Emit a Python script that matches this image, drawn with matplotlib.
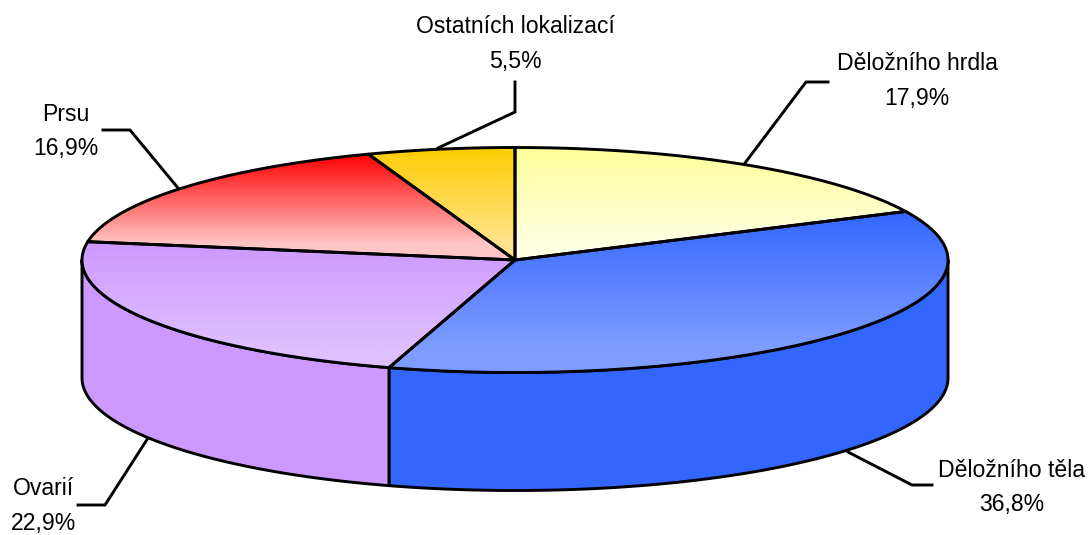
import numpy as np
import matplotlib
matplotlib.use("Agg")
import matplotlib.pyplot as plt
from matplotlib.colors import LinearSegmentedColormap
from matplotlib.patches import Polygon

plt.rcParams["font.family"] = ["Liberation Sans", "DejaVu Sans"]

# clockwise from 12 o'clock
labels = ["Děložního hrdla", "Děložního těla", "Ovarií", "Prsu", "Ostatních lokalizací"]
values = [17.9, 36.8, 22.9, 16.9, 5.5]
top_colors = ["#FFFF99", "#3366FF", "#CC99FF", "#FF0000", "#FFCC00"]
low_colors = ["#FFFFE2", "#7F9DFF", "#DFBFFF", "#FFC6C6", "#FFE48C"]

# pie geometry, in pixels
CX, CY = 515, 260
RX, RY = 433, 112.5
DEPTH = 118
LW = 2.1

# leader lines: start on the pie, elbow, end next to the text
leaders = [
    [(745, 163), (806, 82), (828, 82)],
    [(848, 452), (912, 485), (932, 485)],
    [(148, 438), (105, 505), (78, 505)],
    [(178, 188), (130, 130), (103, 130)],
    [(438, 148), (515, 112), (515, 82)],
]
text_pos = [(917, 81), (1012, 487.5), (43, 506), (66, 131.5), (515, 44)]


def rim(a):
    return CX + RX * np.sin(a), CY - RY * np.cos(a)


fig = plt.figure(figsize=(10.9, 5.35), dpi=100)
ax = fig.add_axes([0, 0, 1, 1])
ax.set_xlim(0, 1090)
ax.set_ylim(535, 0)
ax.axis("off")

edges = np.radians(np.cumsum([0] + values) / sum(values) * 360)

# side wall, only the front half of the rim shows
for i in range(len(values)):
    lo, hi = max(edges[i], np.pi / 2), min(edges[i + 1], 3 * np.pi / 2)
    if lo >= hi:
        continue
    a = np.linspace(lo, hi, 200)
    x, y = rim(a)
    pts = np.r_[np.c_[x, y], np.c_[x[::-1], y[::-1] + DEPTH]]
    ax.add_patch(Polygon(pts, closed=True, facecolor=top_colors[i], edgecolor="black",
                         lw=LW, joinstyle="round", zorder=2))

# top face with a vertical gradient per slice
for i in range(len(values)):
    a = np.linspace(edges[i], edges[i + 1], 200)
    x, y = rim(a)
    pts = np.r_[[(CX, CY)], np.c_[x, y]]
    cmap = LinearSegmentedColormap.from_list(f"s{i}", [top_colors[i], low_colors[i]])
    y0, y1 = pts[:, 1].min(), pts[:, 1].max()
    x0, x1 = pts[:, 0].min(), pts[:, 0].max()
    # the ramp flattens out a little before the bottom of the slice
    ramp = np.clip(np.linspace(0, 1, 256) / 0.85, 0, 1)
    im = ax.imshow(ramp[:, None], cmap=cmap, aspect="auto", vmin=0, vmax=1,
                   extent=(x0, x1, y1, y0), zorder=3)
    poly = Polygon(pts, closed=True, facecolor="none", edgecolor="black", lw=LW,
                   joinstyle="round", zorder=4)
    ax.add_patch(poly)
    im.set_clip_path(poly)

ax.set_xlim(0, 1090)
ax.set_ylim(535, 0)

for name, val, line, pos in zip(labels, values, leaders, text_pos):
    xs, ys = zip(*line)
    ax.plot(xs, ys, color="black", lw=LW, solid_joinstyle="miter", zorder=1)
    ax.text(pos[0], pos[1], f"{name}\n{val:.1f}%".replace(".", ","), ha="center", va="center",
            fontsize=16.6, linespacing=1.62, color="black", zorder=5)

fig.savefig("out.png", dpi=100)
plt.close(fig)
